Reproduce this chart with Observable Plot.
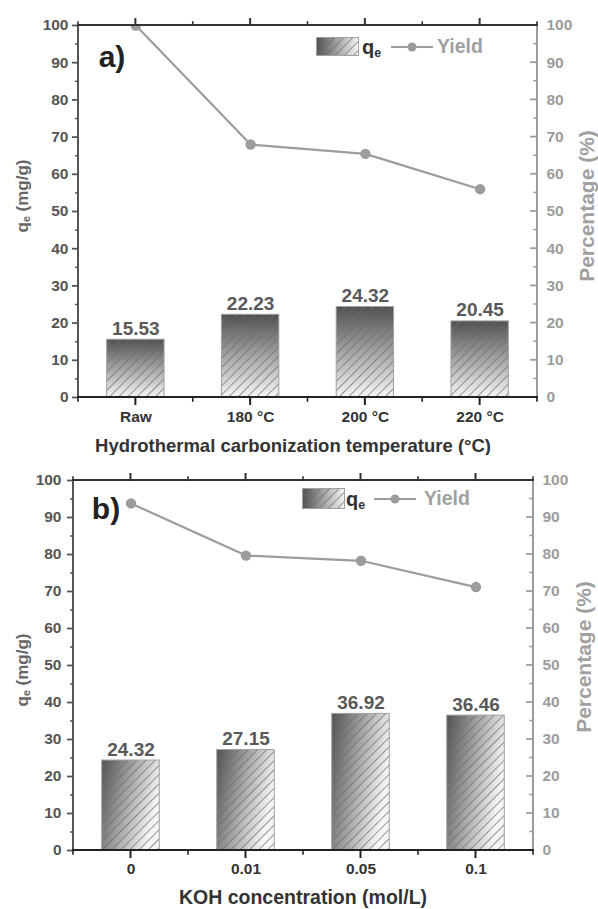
<!DOCTYPE html>
<html><head><meta charset="utf-8">
<script src="https://cdn.jsdelivr.net/npm/d3@7"></script>
<script src="https://cdn.jsdelivr.net/npm/@observablehq/plot@0.6"></script>
<style>
body{margin:0;background:#fff;font-family:"Liberation Sans",Arial,sans-serif;}
#page{position:relative;width:598px;height:909px;overflow:hidden;background:#fff}
.panel{position:absolute;left:0;width:598px;overflow:hidden}
.abs{position:absolute;white-space:nowrap;font-weight:bold;line-height:1}
.rot{transform:translate(-50%,-50%) rotate(-90deg)}
.ctr{transform:translate(-50%,-50%)}
.lft{transform:translate(0,-50%)}
sub{font-size:0.62em;vertical-align:-0.25em;line-height:0}
</style></head><body><div id="page"></div><script>
// ---- data ----
const tempCategories = ["Raw", "180 °C", "200 °C", "220 °C"];
const tempQe = [15.53, 22.23, 24.32, 20.45];
const tempYield = [100, 68, 65.5, 56];

const kohCategories = ["0", "0.01", "0.05", "0.1"];
const kohQe = [24.32, 27.15, 36.92, 36.46];
const kohYield = [93.8, 79.7, 78.3, 71.2];

const yTicks = [0, 10, 20, 30, 40, 50, 60, 70, 80, 90, 100];
const yMinorTicks = [5, 15, 25, 35, 45, 55, 65, 75, 85, 95];

const FONT = "'Liberation Sans', Arial, sans-serif";

function addDefs(sel, gid, hid, dir) {
  const defs = sel.append("defs");
  const g = defs.append("linearGradient").attr("id", gid)
    .attr("x1", 0).attr("y1", 0)
    .attr("x2", dir === "v" ? 0 : 1)
    .attr("y2", dir === "v" ? 1 : (dir === "d" ? 0.35 : 0));
  g.append("stop").attr("offset", "0%").attr("stop-color", "#505050");
  g.append("stop").attr("offset", "100%").attr("stop-color", "#f6f6f6");
  const p = defs.append("pattern").attr("id", hid).attr("patternUnits", "userSpaceOnUse")
    .attr("width", 6.5).attr("height", 6.5).attr("patternTransform", "rotate(45)");
  p.append("line").attr("x1", 0.5).attr("y1", 0).attr("x2", 0.5).attr("y2", 6.5)
    .attr("stroke", "#6b6b6b").attr("stroke-width", 0.7);
}

function decor(cats) {
  return (index, scales, values, dims) => {
    const L = dims.marginLeft, R = dims.width - dims.marginRight;
    const T = dims.marginTop, B = dims.height - dims.marginBottom;
    const band = d3.scaleBand(cats, [L, R]).paddingInner(0.5).paddingOuter(0.25);
    const step = band.step();
    const centers = cats.map(c => band(c) + band.bandwidth() / 2);
    const minors = d3.range(cats.length + 1).map(k => centers[0] - step / 2 + k * step);
    const y = scales.y;
    const g = d3.create("svg:g").attr("fill", "none").attr("stroke-linecap", "square");
    const line = (x1, y1, x2, y2, c, w) => g.append("line").attr("x1", x1).attr("y1", y1)
      .attr("x2", x2).attr("y2", y2).attr("stroke", c).attr("stroke-width", w);
    // right axis (gray, ticks inward)
    line(R, T, R, B, "#9c9c9c", 2);
    yTicks.forEach(v => line(R - 6, y(v), R, y(v), "#9c9c9c", 1.8));
    yMinorTicks.forEach(v => line(R - 3, y(v), R, y(v), "#9c9c9c", 1.5));
    // left axis line
    line(L, T, L, B, "#555", 2);
    // top line with upward ticks
    line(L, T, R, T, "#333", 2);
    centers.forEach(c => line(c, T, c, T - 6, "#333", 2));
    minors.forEach(c => line(c, T, c, T - 3, "#333", 1.6));
    // bottom line with downward ticks
    line(L, B, R, B, "#222", 2);
    centers.forEach(c => line(c, B, c, B + 7, "#222", 2));
    minors.forEach(c => line(c, B, c, B + 4, "#222", 1.6));
    return g.node();
  };
}

function buildPanel(cfg) {
  const rows = cfg.cats.map((cat, i) => ({cat, qe: cfg.qe[i], yield: cfg.yld[i]}));
  const gid = "grad" + cfg.key, hid = "hatch" + cfg.key;
  const chart = Plot.plot({
    width: 598,
    height: cfg.height,
    marginTop: cfg.m[0], marginRight: cfg.m[1], marginBottom: cfg.m[2], marginLeft: cfg.m[3],
    style: {fontFamily: FONT, background: "transparent"},
    x: {type: "band", domain: cfg.cats, paddingInner: 0.5, paddingOuter: 0.25, round: false},
    y: {domain: [0, 100]},
    marks: [
      () => { const s = d3.create("svg:g"); addDefs(s, gid, hid, cfg.dir); return s.node(); },
      Plot.barY(rows, {x: "cat", y: "qe", fill: `url(#${gid})`}),
      Plot.barY(rows, {x: "cat", y: "qe", fill: `url(#${hid})`, stroke: "#a0a0a0", strokeWidth: 1}),
      Plot.text(rows, {x: "cat", y: "qe", text: d => d.qe.toFixed(2), lineAnchor: "bottom", dy: -5,
        fontSize: 19, fontWeight: "bold", fill: "#595959"}),
      Plot.line(rows, {x: "cat", y: "yield", stroke: "#9c9c9c", strokeWidth: 2.2}),
      Plot.dot(rows, {x: "cat", y: "yield", r: 5.2, fill: "#9c9c9c", stroke: "none", clip: true}),
      Plot.axisY({anchor: "left", ticks: yTicks, tickSize: 6, tickPadding: cfg.lpad, label: null,
        fontSize: 15.5, fontWeight: "bold", color: "#555", strokeWidth: 1.8}),
      Plot.axisY({anchor: "left", ticks: yMinorTicks, tickSize: 3, text: null, label: null,
        color: "#555", strokeWidth: 1.5}),
      Plot.axisY({anchor: "right", ticks: yTicks, tickSize: 0, tickPadding: 9, label: null,
        fontSize: 15.5, fontWeight: "bold", color: "#9c9c9c"}),
      Plot.axisX({anchor: "bottom", tickSize: 0, tickPadding: cfg.xpad, label: null,
        fontSize: 15.5, fontWeight: "bold", color: "#333"}),
      decor(cfg.cats)
    ]
  });

  const div = document.createElement("div");
  div.className = "panel";
  div.style.top = cfg.top + "px";
  div.style.height = cfg.height + "px";
  div.appendChild(chart);

  const add = (html, cls, x, y, size, color) => {
    const e = document.createElement("div");
    e.className = "abs " + cls;
    e.style.left = x + "px"; e.style.top = y + "px";
    e.style.fontSize = size + "px"; e.style.color = color;
    e.innerHTML = html;
    div.appendChild(e);
    return e;
  };
  add(cfg.letter, "ctr", cfg.letterPos[0], cfg.letterPos[1], 30, "#222");
  add("q<sub>e</sub> (mg/g)", "rot", cfg.lt[0], cfg.lt[1], 17, "#666");
  add("Percentage (%)", "rot", cfg.rt[0], cfg.rt[1], 21, "#a0a0a0");
  add(cfg.xTitle, "ctr", cfg.xt[0], cfg.xt[1], cfg.xtSize, "#333");

  // legend
  const lg = cfg.legend;
  const patch = d3.create("svg").attr("width", lg.pw).attr("height", lg.ph)
    .style("position", "absolute").style("left", lg.px + "px").style("top", lg.py + "px");
  addDefs(patch, "lgrad" + cfg.key, "lhatch" + cfg.key, "h");
  patch.append("rect").attr("x", 0.5).attr("y", 0.5).attr("width", lg.pw - 1).attr("height", lg.ph - 1)
    .attr("fill", `url(#lgrad${cfg.key})`);
  patch.append("rect").attr("x", 0.5).attr("y", 0.5).attr("width", lg.pw - 1).attr("height", lg.ph - 1)
    .attr("fill", `url(#lhatch${cfg.key})`).attr("stroke", "#a0a0a0");
  div.appendChild(patch.node());
  add("q<sub>e</sub>", "lft", lg.qx, lg.cy, 20, "#333");
  const ln = d3.create("svg").attr("width", 42).attr("height", 12)
    .style("position", "absolute").style("left", lg.lx + "px").style("top", (lg.cy - 6) + "px");
  ln.append("line").attr("x1", 0).attr("x2", 42).attr("y1", 6).attr("y2", 6)
    .attr("stroke", "#9c9c9c").attr("stroke-width", 2);
  ln.append("circle").attr("cx", 21).attr("cy", 6).attr("r", 4.5).attr("fill", "#9c9c9c");
  div.appendChild(ln.node());
  add("Yield", "lft", lg.yx, lg.cy, 19.5, "#a0a0a0");

  document.getElementById("page").appendChild(div);
}

buildPanel({
  key: "A", top: 0, height: 455, m: [25, 61, 58, 78], dir: "v",
  cats: tempCategories, qe: tempQe, yld: tempYield,
  lpad: 4, xpad: 13,
  letter: "a)", letterPos: [112, 57],
  lt: [22, 196], rt: [586, 206],
  xTitle: "Hydrothermal carbonization temperature (°C)", xt: [293, 446], xtSize: 18.5,
  legend: {px: 316, py: 37, pw: 43, ph: 19, qx: 362, cy: 47, lx: 391, yx: 437}
});

buildPanel({
  key: "B", top: 455, height: 454, m: [25, 65, 59, 73], dir: "d",
  cats: kohCategories, qe: kohQe, yld: kohYield,
  lpad: 6, xpad: 12,
  letter: "b)", letterPos: [106, 54],
  lt: [22, 215], rt: [583, 202],
  xTitle: "KOH concentration (mol/L)", xt: [303, 443], xtSize: 19.5,
  legend: {px: 302, py: 33, pw: 43, ph: 21, qx: 346, cy: 44, lx: 374, yx: 424}
});
</script></body></html>
